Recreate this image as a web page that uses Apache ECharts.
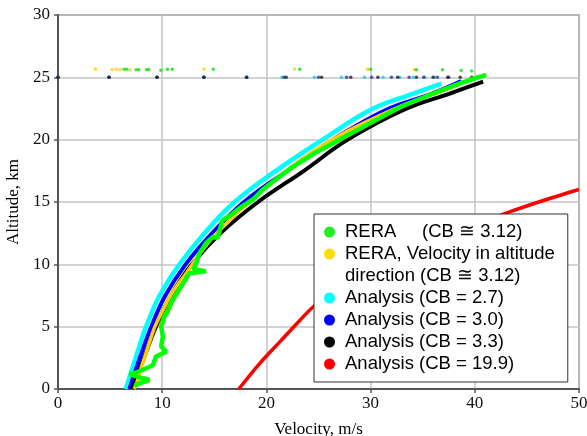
<!DOCTYPE html>
<html><head><meta charset="utf-8">
<script src="https://cdn.jsdelivr.net/npm/echarts@6/dist/echarts.min.js"></script>
<style>html,body{margin:0;padding:0;background:#fff}#c{width:587px;height:436px}</style>
</head><body><div id="c"></div>
<script>
// ---------- names ----------
const nameGreen = 'RERA     (CB \u2245 3.12)';
const nameYellow = 'RERA, Velocity in altitude direction (CB \u2245 3.12)';
const nameCyan = 'Analysis (CB = 2.7)';
const nameBlue = 'Analysis (CB = 3.0)';
const nameBlack = 'Analysis (CB = 3.3)';
const nameRed = 'Analysis (CB = 19.9)';

// ---------- axis ticks ----------
const xTicks = [0, 10, 20, 30, 40, 50];
const yTicks = [0, 5, 10, 15, 20, 25, 30];

// ---------- analysis curves (velocity m/s, altitude km) ----------
const cyanV  = [6.5, 7.45, 8.45, 9.75, 11.66, 14.05, 16.94, 20.9, 25.4, 30.0, 34.1, 36.8];
const cyanH  = [0, 2.5, 5, 7.5, 10, 12.5, 15, 17.5, 20, 22.4, 23.7, 24.5];
const blueV  = [6.85, 7.85, 8.95, 10.3, 12.25, 14.8, 17.85, 22.0, 26.4, 31.5, 35.9, 38.7];
const blueH  = [0, 2.5, 5, 7.5, 10, 12.5, 15, 17.5, 20, 22.4, 23.7, 24.7];
const blackV = [7.15, 8.25, 9.4, 10.85, 12.85, 15.6, 19.2, 23.6, 27.8, 33.2, 37.6, 40.8];
const blackH = [0, 2.5, 5, 7.5, 10, 12.5, 15, 17.5, 20, 22.4, 23.7, 24.65];
const redV   = [17.35, 19.3, 21.3, 23.2, 24.5, 27.5, 31.2, 35.5, 39.5, 43.0, 46.5, 50.0];
const redH   = [0, 2.0, 3.8, 5.5, 6.6, 8.5, 10.0, 11.6, 12.9, 14.1, 15.1, 16.0];

// dots of the analysis runs along the 25 km release altitude
const cyanTopV  = [0, 4.9, 9.5, 14.0, 18.1, 21.5, 24.6, 27.2, 29.4, 31.2, 32.8, 34.1, 35.2, 36.1];
const blueTopV  = [0, 4.9, 9.5, 14.0, 18.1, 21.7, 25.0, 27.7, 30.1, 32.0, 33.7, 35.1, 36.4, 37.5];
const blackTopV = [0, 4.9, 9.5, 14.0, 18.1, 21.9, 25.3, 28.1, 30.7, 32.6, 34.4, 36.0, 37.4, 38.6, 39.7];
const releaseAlt = 25;

// ---------- RERA measurements ----------
const greenV = [7.34, 7.8, 8.78, 8.14, 6.86, 7.34, 8.46, 9.1, 9.4, 10.4, 9.9, 10.06, 9.9, 10.2, 10.5, 11.0, 11.8, 12.6, 14.2, 13.0, 13.26, 13.58, 14.2, 14.86, 15.3, 15.8, 16.5, 17.4, 18.7, 19.66, 20.9, 22.5, 24.6, 27.0, 29.9, 32.8, 36.0, 38.5, 40.3, 41.1];
const greenH = [0.24, 0.46, 0.72, 0.86, 1.2, 1.26, 1.66, 1.9, 2.6, 3.0, 3.4, 4.2, 5.0, 5.8, 6.2, 7.14, 8.2, 9.28, 9.45, 9.6, 10.1, 10.9, 11.7, 12.2, 12.1, 13.55, 13.9, 14.5, 15.2, 16.0, 16.8, 17.8, 18.9, 20.0, 21.3, 22.6, 23.7, 24.5, 25.0, 25.2];
const greenTopV = [6.35, 6.6, 7.5, 7.75, 8.5, 8.7, 9.87, 10.5, 10.96, 14.9, 23.2, 30.0, 34.4, 36.9, 38.7, 39.7];
const greenTopH = [25.64, 25.64, 25.6, 25.6, 25.6, 25.62, 25.56, 25.64, 25.64, 25.64, 25.64, 25.64, 25.6, 25.6, 25.55, 25.5];

const yellowV = [7.3, 7.6, 7.9, 8.3, 8.8, 9.3, 10.0, 10.8, 11.6, 12.5, 13.3, 14.2, 15.0, 16.2, 17.3, 18.4, 19.7, 21.2, 23.0, 25.3, 27.8, 30.5, 33.5, 36.5, 39.0, 40.5];
const yellowH = [0, 0.6, 1.5, 2.5, 3.8, 5.0, 6.2, 7.5, 8.5, 9.5, 10.5, 11.5, 12.3, 13.3, 14.2, 15.0, 16.0, 17.0, 18.2, 19.5, 20.7, 21.8, 22.9, 23.8, 24.6, 25.1];
const yellowTopV = [3.6, 5.2, 5.6, 5.97, 6.93, 14.0, 22.7, 29.7, 34.2];
const yellowTopH = [25.66, 25.62, 25.64, 25.62, 25.6, 25.66, 25.66, 25.64, 25.6];

// ---------- build ----------
const zip = (a, b) => a.map((v, i) => [v, b[i]]);
const flat = (a, h) => a.map(v => [v, h]);

const C = { green: '#00ff00', yellow: '#ffcc00', cyan: '#00ffff', blue: '#0000ff', black: '#000000', red: '#ff0000' };

function lineSeries(name, data, color, width, smooth, z) {
  return { type: 'line', name, data, smooth, showSymbol: false, symbol: 'none', z,
    lineStyle: { color, width }, itemStyle: { color }, clip: true };
}
function dotSeries(name, data, color, z) {
  return { type: 'scatter', name, data, symbol: 'circle', symbolSize: 3.5, z,
    itemStyle: { color } };
}

const legendKey = {};
legendKey[nameGreen] = 'g'; legendKey[nameYellow] = 'y'; legendKey[nameCyan] = 'c';
legendKey[nameBlue] = 'b'; legendKey[nameBlack] = 'k'; legendKey[nameRed] = 'r';
const dot = col => ({ width: 11, height: 11, borderRadius: 5.5, backgroundColor: col });
const legendFont = { fontFamily: 'Liberation Sans', fontSize: 18.5, color: '#000', lineHeight: 22 };

const option = {
  animation: false,
  backgroundColor: '#fff',
  grid: { left: 58, right: 8, top: 15, bottom: 47, show: true, borderColor: '#666', borderWidth: 1.5,
    containLabel: false, outerBoundsMode: 'none' },
  xAxis: {
    type: 'value', min: xTicks[0], max: xTicks[xTicks.length - 1], interval: 10,
    name: 'Velocity, m/s', nameLocation: 'middle', nameGap: 32,
    nameTextStyle: { fontFamily: 'Liberation Serif', fontSize: 17, color: '#000' },
    axisLine: { show: true, onZero: false, lineStyle: { color: '#555', width: 2 } },
    axisTick: { show: true, length: 4, lineStyle: { color: '#555', width: 1.5 } },
    axisLabel: { fontFamily: 'Liberation Serif', fontSize: 17, color: '#111', margin: 6 },
    splitLine: { show: true, lineStyle: { color: '#c4c4c4', width: 1.5 } }
  },
  yAxis: {
    type: 'value', min: yTicks[0], max: yTicks[yTicks.length - 1], interval: 5,
    name: 'Altitude, km', nameLocation: 'middle', nameGap: 31,
    nameTextStyle: { fontFamily: 'Liberation Serif', fontSize: 17, color: '#000' },
    axisLine: { show: true, onZero: false, lineStyle: { color: '#555', width: 2 } },
    axisTick: { show: true, length: 4, lineStyle: { color: '#555', width: 1.5 } },
    axisLabel: { fontFamily: 'Liberation Serif', fontSize: 17, color: '#111', margin: 8 },
    splitLine: { show: true, lineStyle: { color: '#c4c4c4', width: 1.5 } }
  },
  legend: {
    orient: 'vertical', left: 314, top: 214, padding: [7, 13, 7, 5],
    backgroundColor: '#fff', borderColor: '#333', borderWidth: 1,
    icon: 'none', itemWidth: 0, itemHeight: 22, itemGap: 0, selectedMode: false,
    data: [nameGreen, nameYellow, nameCyan, nameBlue, nameBlack, nameRed],
    formatter: function (name) {
      const k = legendKey[name];
      if (k === 'y') {
        return '{y|}{s|}{t|RERA, Velocity in altitude}\n{e|}{s|}{t|direction (CB \u2245 3.12)}';
      }
      return '{' + k + '|}{s|}{t|' + name + '}';
    },
    textStyle: Object.assign({}, legendFont, {
      rich: {
        g: dot('#22ee22'), y: dot('#ffdd00'), c: dot('#00ffff'), b: dot('#0000ff'),
        k: dot('#000000'), r: dot('#ff0000'), e: { width: 11, height: 11 },
        s: { width: 10, height: 11 },
        t: legendFont
      }
    })
  },
  series: [
    lineSeries(nameRed, zip(redV, redH), C.red, 3.5, 0.3, 2),
    lineSeries(nameCyan, zip(cyanV, cyanH), C.cyan, 4.5, 0.4, 2),
    dotSeries(nameCyan, flat(cyanTopV, releaseAlt), '#22c8e0', 3),
    lineSeries(nameBlue, zip(blueV, blueH), C.blue, 4, 0.4, 3),
    dotSeries(nameBlue, flat(blueTopV, releaseAlt), '#2a3aa8', 3),
    lineSeries(nameBlack, zip(blackV, blackH), C.black, 4, 0.4, 3),
    dotSeries(nameBlack, flat(blackTopV, releaseAlt), '#222', 3),
    lineSeries(nameYellow, zip(yellowV, yellowH), C.yellow, 3.5, 0.2, 4),
    dotSeries(nameYellow, zip(yellowTopV, yellowTopH), '#ffcc00', 4),
    lineSeries(nameGreen, zip(greenV, greenH), C.green, 4.5, false, 5),
    dotSeries(nameGreen, zip(greenTopV, greenTopH), '#11dd11', 5)
  ]
};

const chart = echarts.init(document.getElementById('c'), null, { renderer: 'canvas' });
chart.setOption(option);
</script>
</body></html>
